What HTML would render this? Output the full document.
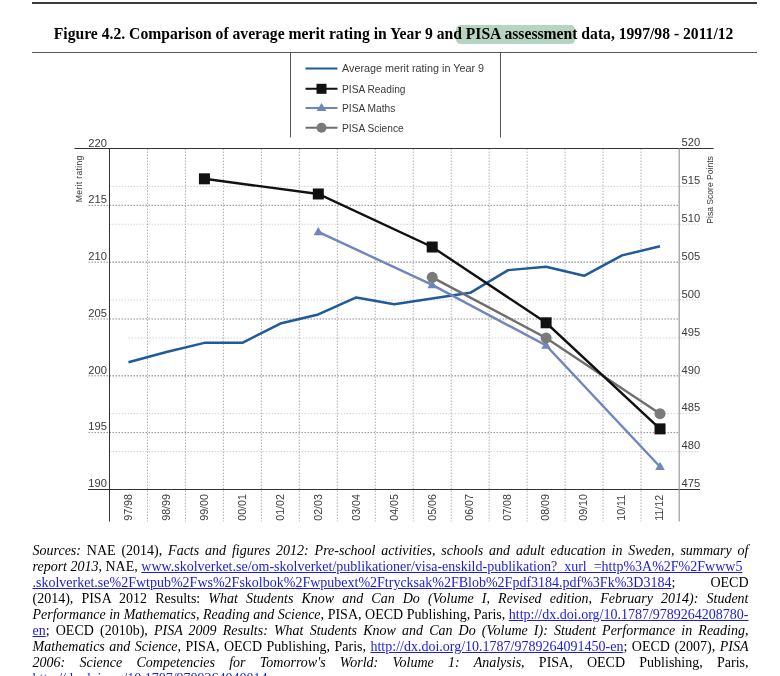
<!DOCTYPE html>
<html lang="en"><head><meta charset="utf-8"><title>Figure 4.2</title>
<style>
html,body{margin:0;padding:0;background:#fff;}
body{width:780px;height:676px;position:relative;overflow:hidden;font-family:"Liberation Serif",serif;color:#000;}
.topbar{position:absolute;left:32px;top:2px;width:725px;height:2px;background:#3c3c3c;}
.rule2{position:absolute;left:32px;top:51.5px;width:725px;height:1.5px;background:#555;}
h1{position:absolute;left:53.8px;top:23px;margin:0;font-size:15.65px;line-height:22px;font-weight:bold;white-space:nowrap;}
h1 mark{background:none;color:inherit;}
.hl{position:absolute;left:456px;top:24.6px;width:118.6px;height:19.8px;background:#b6d4c0;border-radius:4.5px;}
.chart{position:absolute;left:0;top:50px;}
.g1{stroke:#8a8a8a;stroke-width:1;stroke-dasharray:1.5 1.5;}
.g2{stroke:#d2d2d2;stroke-width:1;stroke-dasharray:1.5 1.5;}
.g3{stroke:#b0b0b0;stroke-width:1;stroke-dasharray:1.5 1.5;}
.ax{stroke:#333;stroke-width:1;}
.axr{stroke:#999;stroke-width:1.2;}
.lg{stroke:#555;stroke-width:1;}
.lt{font-family:"Liberation Sans",sans-serif;font-size:11px;fill:#3a3a3a;}
.tl{font-family:"Liberation Sans",sans-serif;font-size:11.2px;fill:#3a3a3a;}
.tc{font-family:"Liberation Sans",sans-serif;font-size:10.7px;fill:#3a3a3a;}
.at{font-family:"Liberation Sans",sans-serif;font-size:8.6px;fill:#3a3a3a;}
.at2{font-family:"Liberation Sans",sans-serif;font-size:9.2px;fill:#3a3a3a;}
.src{position:absolute;left:32.5px;top:542.8px;width:716px;margin:0;font-size:14px;line-height:16px;}
.src .ln{display:block;white-space:nowrap;height:16px;}
.src .j{text-align:justify;text-align-last:justify;white-space:normal;}
.src a{color:#1a1ae0;text-decoration:underline;}
</style></head><body>
<div class="topbar"></div>
<div class="hl"></div>
<h1>Figure 4.2. Comparison of average merit rating in Year 9 and <mark>PISA assessment</mark> data, 1997/98 - 2011/12</h1>
<div class="rule2"></div>
<svg class="chart" width="780" height="480" viewBox="0 50 780 480" xmlns="http://www.w3.org/2000/svg">
<line x1="109.5" y1="186.39" x2="700.0" y2="186.39" class="g2"/>
<line x1="109.5" y1="224.28" x2="700.0" y2="224.28" class="g2"/>
<line x1="109.5" y1="262.17" x2="700.0" y2="262.17" class="g2"/>
<line x1="109.5" y1="300.06" x2="700.0" y2="300.06" class="g2"/>
<line x1="128.5" y1="337.94" x2="700.0" y2="337.94" class="g2"/>
<line x1="109.5" y1="375.83" x2="700.0" y2="375.83" class="g2"/>
<line x1="109.5" y1="413.72" x2="700.0" y2="413.72" class="g2"/>
<line x1="109.5" y1="451.61" x2="700.0" y2="451.61" class="g2"/>
<line x1="88.5" y1="205.33" x2="679.0" y2="205.33" class="g1"/>
<line x1="88.5" y1="262.17" x2="679.0" y2="262.17" class="g1"/>
<line x1="88.5" y1="319.00" x2="679.0" y2="319.00" class="g1"/>
<line x1="88.5" y1="375.83" x2="679.0" y2="375.83" class="g1"/>
<line x1="88.5" y1="432.67" x2="679.0" y2="432.67" class="g1"/>
<line x1="147.47" y1="148.5" x2="147.47" y2="521.5" class="g3"/>
<line x1="185.43" y1="148.5" x2="185.43" y2="521.5" class="g3"/>
<line x1="223.40" y1="148.5" x2="223.40" y2="521.5" class="g3"/>
<line x1="261.37" y1="148.5" x2="261.37" y2="521.5" class="g3"/>
<line x1="299.33" y1="148.5" x2="299.33" y2="521.5" class="g3"/>
<line x1="337.30" y1="148.5" x2="337.30" y2="521.5" class="g3"/>
<line x1="375.27" y1="148.5" x2="375.27" y2="521.5" class="g3"/>
<line x1="413.23" y1="148.5" x2="413.23" y2="521.5" class="g3"/>
<line x1="451.20" y1="148.5" x2="451.20" y2="521.5" class="g3"/>
<line x1="489.17" y1="148.5" x2="489.17" y2="521.5" class="g3"/>
<line x1="527.13" y1="148.5" x2="527.13" y2="521.5" class="g3"/>
<line x1="565.10" y1="148.5" x2="565.10" y2="521.5" class="g3"/>
<line x1="603.07" y1="148.5" x2="603.07" y2="521.5" class="g3"/>
<line x1="641.03" y1="148.5" x2="641.03" y2="521.5" class="g3"/>
<line x1="74.5" y1="148.5" x2="713.5" y2="148.5" class="ax"/>
<line x1="88.0" y1="489.5" x2="700.0" y2="489.5" class="ax"/>
<line x1="109.5" y1="148.5" x2="109.5" y2="521.5" class="ax"/>
<line x1="679.2" y1="148.5" x2="679.2" y2="521.5" class="axr"/>
<line x1="290.5" y1="52.5" x2="290.5" y2="137.5" class="lg"/>
<line x1="500.5" y1="52.5" x2="500.5" y2="137.5" class="lg"/>
<line x1="305.5" y1="68.5" x2="337.5" y2="68.5" stroke="#1f5a9a" stroke-width="2"/>
<line x1="305.5" y1="88.8" x2="337.5" y2="88.8" stroke="#111" stroke-width="2"/>
<rect x="316.5" y="83.8" width="10" height="10" fill="#111"/>
<line x1="305.5" y1="108" x2="337.5" y2="108" stroke="#6f86bd" stroke-width="2"/>
<polygon points="321.5,103 326.5,111 316.5,111" fill="#6f86bd"/>
<line x1="305.5" y1="127.8" x2="337.5" y2="127.8" stroke="#6e6e6e" stroke-width="2"/>
<circle cx="321.5" cy="127.8" r="5" fill="#7a7a7a"/>
<text x="342" y="72.3" class="lt" textLength="142" lengthAdjust="spacingAndGlyphs">Average merit rating in Year 9</text>
<text x="342" y="92.6" class="lt" textLength="63.5" lengthAdjust="spacingAndGlyphs">PISA Reading</text>
<text x="342" y="111.8" class="lt" textLength="53.4" lengthAdjust="spacingAndGlyphs">PISA Maths</text>
<text x="342" y="131.6" class="lt" textLength="61.7" lengthAdjust="spacingAndGlyphs">PISA Science</text>
<text x="107.0" y="147.20" class="tl" text-anchor="end">220</text>
<text x="107.0" y="203.03" class="tl" text-anchor="end">215</text>
<text x="107.0" y="259.87" class="tl" text-anchor="end">210</text>
<text x="107.0" y="316.70" class="tl" text-anchor="end">205</text>
<text x="107.0" y="373.53" class="tl" text-anchor="end">200</text>
<text x="107.0" y="430.37" class="tl" text-anchor="end">195</text>
<text x="107.0" y="487.20" class="tl" text-anchor="end">190</text>
<text x="681.5" y="146.20" class="tl">520</text>
<text x="681.5" y="184.09" class="tl">515</text>
<text x="681.5" y="221.98" class="tl">510</text>
<text x="681.5" y="259.87" class="tl">505</text>
<text x="681.5" y="297.76" class="tl">500</text>
<text x="681.5" y="335.64" class="tl">495</text>
<text x="681.5" y="373.53" class="tl">490</text>
<text x="681.5" y="411.42" class="tl">485</text>
<text x="681.5" y="449.31" class="tl">480</text>
<text x="681.5" y="487.20" class="tl">475</text>
<text transform="translate(131.78,520.8) rotate(-90)" class="tc">97/98</text>
<text transform="translate(169.75,520.8) rotate(-90)" class="tc">98/99</text>
<text transform="translate(207.72,520.8) rotate(-90)" class="tc">99/00</text>
<text transform="translate(245.68,520.8) rotate(-90)" class="tc">00/01</text>
<text transform="translate(283.65,520.8) rotate(-90)" class="tc">01/02</text>
<text transform="translate(321.62,520.8) rotate(-90)" class="tc">02/03</text>
<text transform="translate(359.58,520.8) rotate(-90)" class="tc">03/04</text>
<text transform="translate(397.55,520.8) rotate(-90)" class="tc">04/05</text>
<text transform="translate(435.52,520.8) rotate(-90)" class="tc">05/06</text>
<text transform="translate(473.48,520.8) rotate(-90)" class="tc">06/07</text>
<text transform="translate(511.45,520.8) rotate(-90)" class="tc">07/08</text>
<text transform="translate(549.42,520.8) rotate(-90)" class="tc">08/09</text>
<text transform="translate(587.38,520.8) rotate(-90)" class="tc">09/10</text>
<text transform="translate(625.35,520.8) rotate(-90)" class="tc">10/11</text>
<text transform="translate(663.32,520.8) rotate(-90)" class="tc">11/12</text>
<text transform="translate(82,155.6) rotate(-90)" class="at" text-anchor="end" textLength="46.6">Merit rating</text>
<text transform="translate(712.7,156.2) rotate(-90)" class="at2" text-anchor="end" textLength="67.5" lengthAdjust="spacingAndGlyphs">Pisa Score Points</text>
<polyline points="128.48,362.19 166.45,351.96 204.42,342.87 242.38,342.87 280.35,323.55 318.32,314.45 356.28,297.40 394.25,304.22 432.22,298.54 470.18,292.86 508.15,270.12 546.12,266.71 584.08,275.81 622.05,255.35 660.02,246.25" fill="none" stroke="#1f5a9a" stroke-width="2.5" stroke-linejoin="round"/>
<polyline points="318.32,231.86 432.22,284.90 546.12,345.52 660.02,466.77" fill="none" stroke="#6f86bd" stroke-width="2.4"/>
<polygon points="318.32,226.96 323.12,235.16 313.52,235.16" fill="#6f86bd"/>
<polygon points="432.22,280.00 437.02,288.20 427.42,288.20" fill="#6f86bd"/>
<polygon points="546.12,340.62 550.92,348.82 541.32,348.82" fill="#6f86bd"/>
<polygon points="660.02,461.87 664.82,470.07 655.22,470.07" fill="#6f86bd"/>
<polyline points="432.22,277.32 546.12,337.94 660.02,413.72" fill="none" stroke="#6e6e6e" stroke-width="2.4"/>
<polyline points="204.42,178.81 318.32,193.97 432.22,247.01 546.12,322.79 660.02,428.88" fill="none" stroke="#111" stroke-width="2.4"/>
<rect x="198.92" y="173.31" width="11" height="11" fill="#111"/>
<rect x="312.82" y="188.47" width="11" height="11" fill="#111"/>
<rect x="426.72" y="241.51" width="11" height="11" fill="#111"/>
<rect x="540.62" y="317.29" width="11" height="11" fill="#111"/>
<rect x="654.52" y="423.38" width="11" height="11" fill="#111"/>
<circle cx="432.22" cy="277.32" r="5.5" fill="#7a7a7a"/>
<circle cx="546.12" cy="337.94" r="5.5" fill="#7a7a7a"/>
<circle cx="660.02" cy="413.72" r="5.5" fill="#7a7a7a"/>
</svg>
<p class="src">
<span class="ln j"><i>Sources:</i> NAE (2014), <i>Facts and figures 2012: Pre-school activities, schools and adult education in Sweden, summary of</i></span>
<span class="ln l"><i>report 2013</i>, NAE, <a>www.skolverket.se/om-skolverket/publikationer/visa-enskild-publikation?_xurl_=http%3A%2F%2Fwww5</a></span>
<span class="ln j"><a>.skolverket.se%2Fwtpub%2Fws%2Fskolbok%2Fwpubext%2Ftrycksak%2FBlob%2Fpdf3184.pdf%3Fk%3D3184</a>; OECD</span>
<span class="ln j">(2014), PISA 2012 Results: <i>What Students Know and Can Do (Volume I, Revised edition, February 2014): Student</i></span>
<span class="ln j"><i>Performance in Mathematics, Reading and Science</i>, PISA, OECD Publishing, Paris, <a>http://dx.doi.org/10.1787/9789264208780-</a></span>
<span class="ln j"><a>en</a>; OECD (2010b), <i>PISA 2009 Results: What Students Know and Can Do (Volume I): Student Performance in Reading,</i></span>
<span class="ln j"><i>Mathematics and Science</i>, PISA, OECD Publishing, Paris, <a>http://dx.doi.org/10.1787/9789264091450-en</a>; OECD (2007), <i>PISA</i></span>
<span class="ln j"><i>2006: Science Competencies for Tomorrow's World: Volume 1: Analysis</i>, PISA, OECD Publishing, Paris,</span>
<span class="ln l"><a>http://dx.doi.org/10.1787/9789264040014-en</a>.</span>
</p>
</body></html>
